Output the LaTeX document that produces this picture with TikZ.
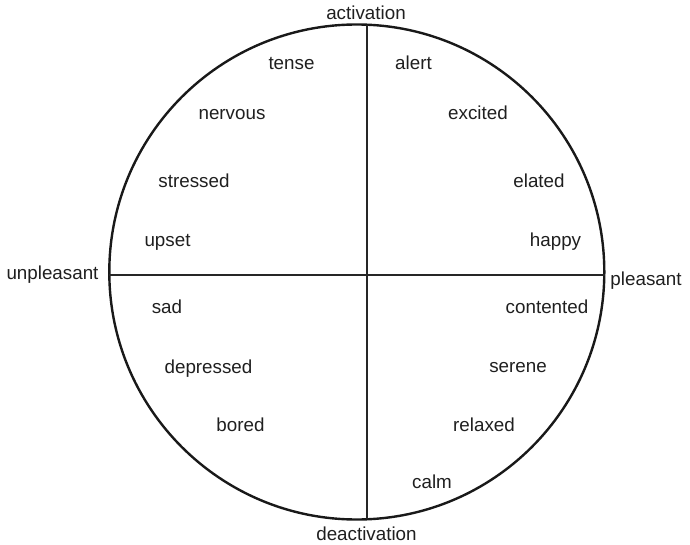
\documentclass[tikz,border=0pt]{standalone}
\usepackage{fontspec}
\setmainfont{Liberation Sans}
\begin{document}
\begin{tikzpicture}[x=1pt,y=-1pt,
  word/.style={anchor=base,inner sep=0pt,text=black!88,font=\fontsize{18.8}{22}\selectfont},
  rim/.style={line width=2.4pt,black!90},
  axis/.style={line width=2pt,black!85}]
\useasboundingbox (0,0) rectangle (690,545);
\node[circle,minimum size=495pt,draw,rim,inner sep=0pt] (c) at (356.8,272) {};
\coordinate (L) at (108.6,274.5);
\coordinate (R) at (605.0,274.5);
\coordinate (T) at (367,24.8);
\coordinate (B) at (367,519.2);
\draw[axis] (L) -- (R);
\draw[axis] (T) -- (B);
\node[word] (act) at (366,20) {activation};
\node[word] (deact) at (366.5,540) {deactivation};
\node[word] (unp) at (52.5,279) {unpleasant};
\node[word] (ple) at (646,285) {pleasant};
\node[word] (tense) at (291.5,70) {tense};
\node[word] (alert) at (413.5,70) {alert};
\node[word] (nervous) at (232,120) {nervous};
\node[word] (excited) at (478,120) {excited};
\node[word] (stressed) at (194,188) {stressed};
\node[word] (elated) at (539,188) {elated};
\node[word] (upset) at (167.5,247) {upset};
\node[word] (happy) at (555.5,247) {happy};
\node[word] (sad) at (167,313) {sad};
\node[word] (contented) at (547,313) {contented};
\node[word] (depressed) at (208.5,373) {depressed};
\node[word] (serene) at (518,372) {serene};
\node[word] (bored) at (240.5,431) {bored};
\node[word] (relaxed) at (484,431) {relaxed};
\node[word] (calm) at (432,488) {calm};
\end{tikzpicture}
\end{document}
